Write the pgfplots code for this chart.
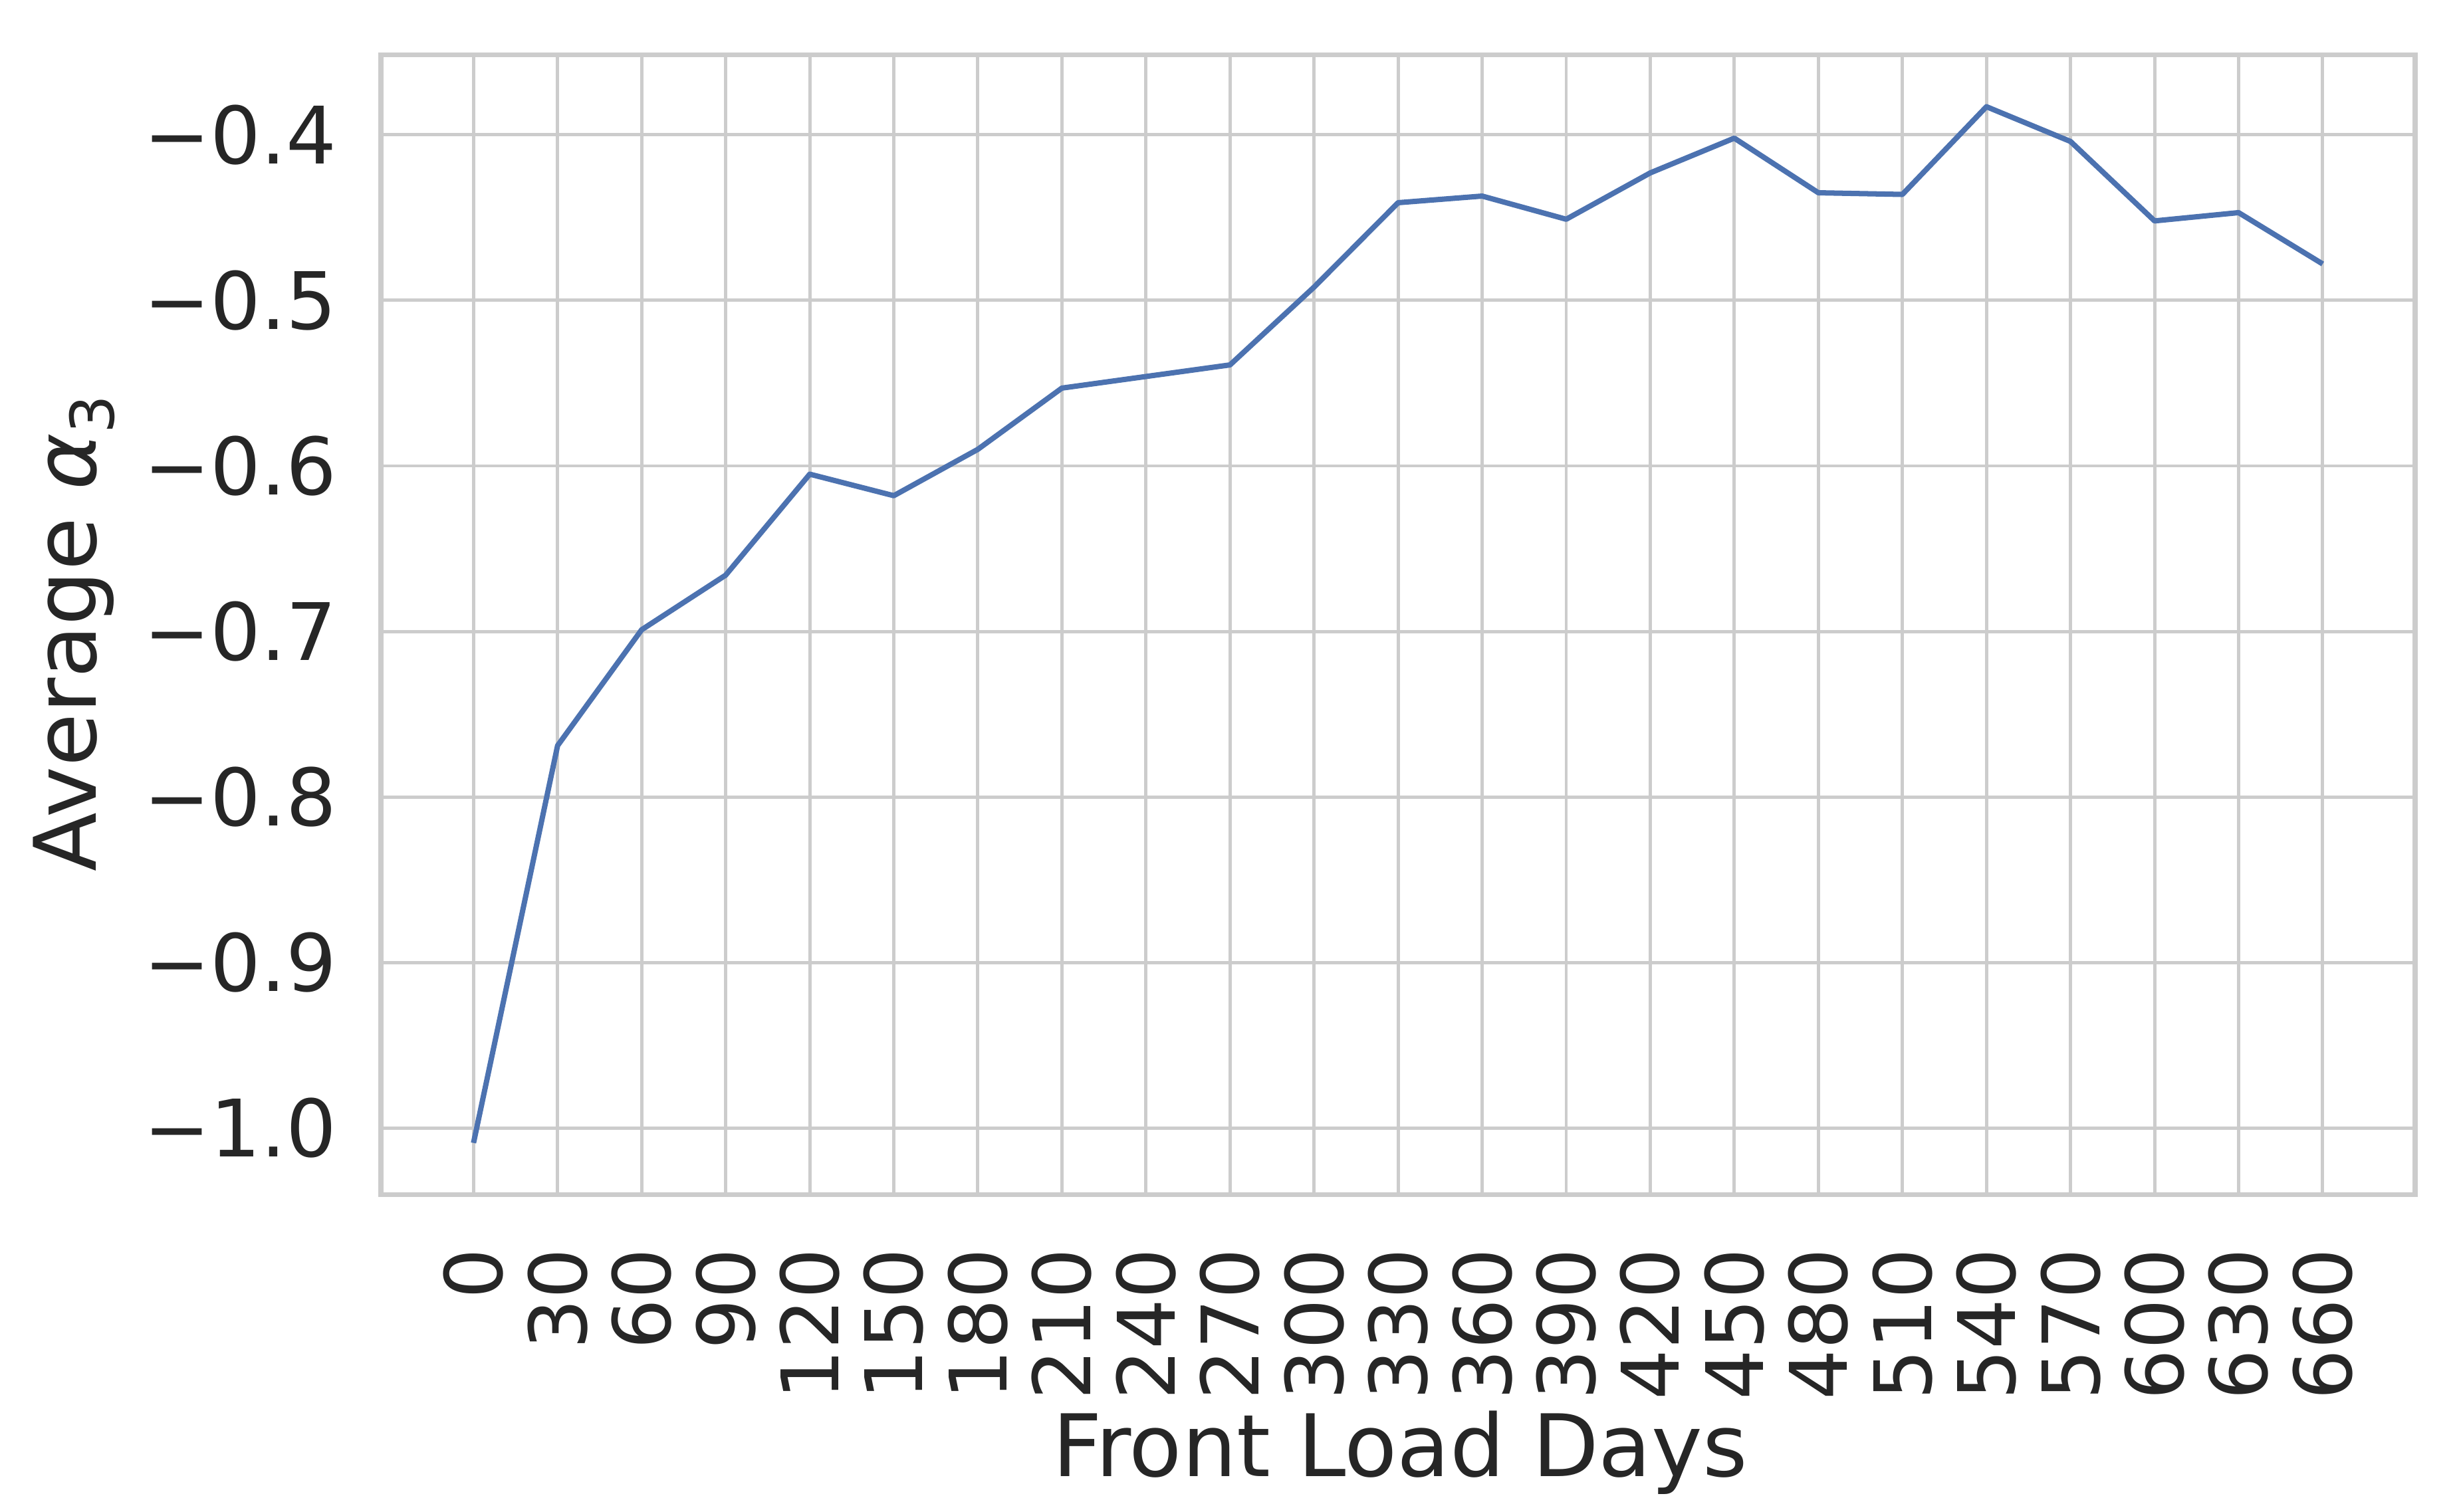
\documentclass[border=0pt]{standalone}
\usepackage{pgfplots}
\pgfplotsset{compat=1.18}
\usepackage{fontspec}
\setmainfont{DejaVu Sans}
\definecolor{sblue}{HTML}{4C72B0}
\definecolor{gridc}{HTML}{CCCCCC}
\definecolor{txt}{HTML}{262626}
\begin{document}
\begin{tikzpicture}
\begin{axis}[
  name=ax,
  width=648.5pt, height=363.5pt, scale only axis,
  xmin=-33, xmax=693, ymin=-1.0403, ymax=-0.3517,
  xtick={0,30,...,660},
  ytick={-1.0,-0.9,-0.8,-0.7,-0.6,-0.5,-0.4},
  yticklabels={−1.0,−0.9,−0.8,−0.7,−0.6,−0.5,−0.4},
  grid=major,
  major grid style={draw=gridc, line width=1.05pt},
  axis line style={draw=gridc, line width=1.6pt},
  major tick length=0pt,
  tick style={draw=none},
  /pgf/number format/assume math mode=true,
  ticklabel style={font=\fontsize{25.3}{30}\selectfont, text=txt, inner sep=0pt},
  xticklabel style={rotate=90, anchor=east},
  yticklabel style={anchor=east},
  xticklabel shift=17pt,
  yticklabel shift=14pt,
]
\addplot[sblue, line width=1.7pt, line join=round, mark=none] table {
x y
0 -1.009
30 -0.769
60 -0.699
90 -0.666
120 -0.605
150 -0.618
180 -0.590
210 -0.553
240 -0.546
270 -0.539
300 -0.492
330 -0.441
360 -0.437
390 -0.451
420 -0.423
450 -0.402
480 -0.435
510 -0.436
540 -0.383
570 -0.404
600 -0.452
630 -0.447
660 -0.478
};
\coordinate (L) at (rel axis cs:0,0.5);
\coordinate (B) at (rel axis cs:0.5,0);
\coordinate (SW) at (rel axis cs:0,0);
\coordinate (NE) at (rel axis cs:1,1);
\end{axis}
\node[rotate=90, anchor=base, font=\fontsize{27.5}{33}\selectfont, text=txt, inner sep=0pt]
  at ([xshift=-90.8pt, yshift=-2.5pt]L) {Average {\itshape α}\textsubscript{3}};
\node[anchor=base, font=\fontsize{27.5}{33}\selectfont, text=txt, inner sep=0pt]
  at ([yshift=-89.85pt, xshift=0.6pt]B) {Front Load Days};
\pgfresetboundingbox
\path[use as bounding box] ([shift={(-121.5pt,-101pt)}]SW) rectangle ([shift={(14pt,17.5pt)}]NE);
\end{tikzpicture}
\end{document}
